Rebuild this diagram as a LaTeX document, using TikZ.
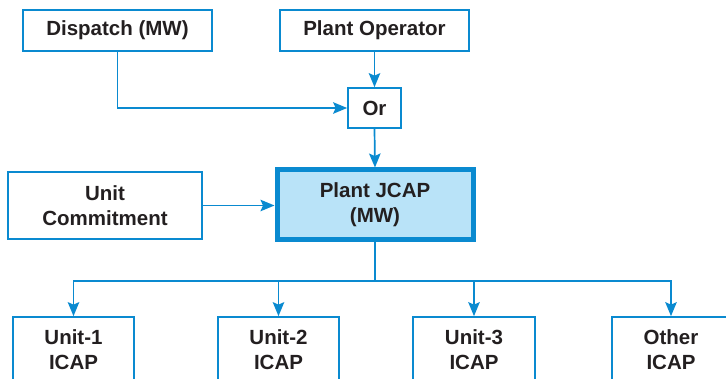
\documentclass[tikz,border=0pt]{standalone}
\usepackage{fontspec}
\setmainfont{Liberation Sans}
\usetikzlibrary{arrows.meta,positioning}
\definecolor{lineblue}{HTML}{0A8AD0}
\definecolor{fillblue}{HTML}{B9E3F8}
\definecolor{txt}{HTML}{231F20}
\tikzset{
  x=1pt,y=-1pt,
  box/.style={draw=lineblue,line width=1.7pt,rectangle,inner sep=0pt,align=center,text=txt,
    font=\fontsize{20.5}{25}\selectfont\bfseries},
  mainbox/.style={box,line width=5pt,fill=fillblue},
  arr/.style={draw=lineblue,line width=1.7pt,-{Stealth[length=14pt,width=11.5pt,inset=2.5pt]}},
}
\begin{document}
\begin{tikzpicture}
\useasboundingbox (0,0) rectangle (726,379);
\clip (0,0) rectangle (726,379);
\node[box,minimum width=189pt,minimum height=41pt] (disp) at (117.5,30.5) {Dispatch (MW)};
\node[box,minimum width=189pt,minimum height=41pt] (plop) at (374.5,30.5) {Plant Operator};
\node[box,minimum width=53pt,minimum height=40pt] (or) at (374.5,108) {Or};
\node[box,minimum width=194pt,minimum height=67pt] (uc) at (105,205.5) {Unit\\Commitment};
\node[mainbox,minimum width=196pt,minimum height=70pt] (jcap) at (375,205) {Plant JCAP\\(MW)};
\node[box,minimum width=121pt,minimum height=66pt] (u1) at (73.5,350) {Unit-1\\ICAP};
\node[box,minimum width=121pt,minimum height=66pt] (u2) at (278.5,350) {Unit-2\\ICAP};
\node[box,minimum width=122pt,minimum height=66pt] (u3) at (474,350) {Unit-3\\ICAP};
\node[box,minimum width=118pt,minimum height=66pt] (u4) at (671,350) {Other\\ICAP};
\coordinate (bus) at (375,281);
\draw[arr] (plop.south) -- (or.north);
\draw[arr] (disp.south) |- (or.west);
\draw[arr] (or.south) -- (jcap.north);
\draw[arr] (uc.east) -- (uc.east -| jcap.west);
\draw[arr] (jcap.south) -- (bus) -| (u1.north);
\draw[arr] (jcap.south) -- (bus) -| (u2.north);
\draw[arr] (jcap.south) -- (bus) -| (u3.north);
\draw[arr] (jcap.south) -- (bus) -| (u4.north);
\end{tikzpicture}
\end{document}
